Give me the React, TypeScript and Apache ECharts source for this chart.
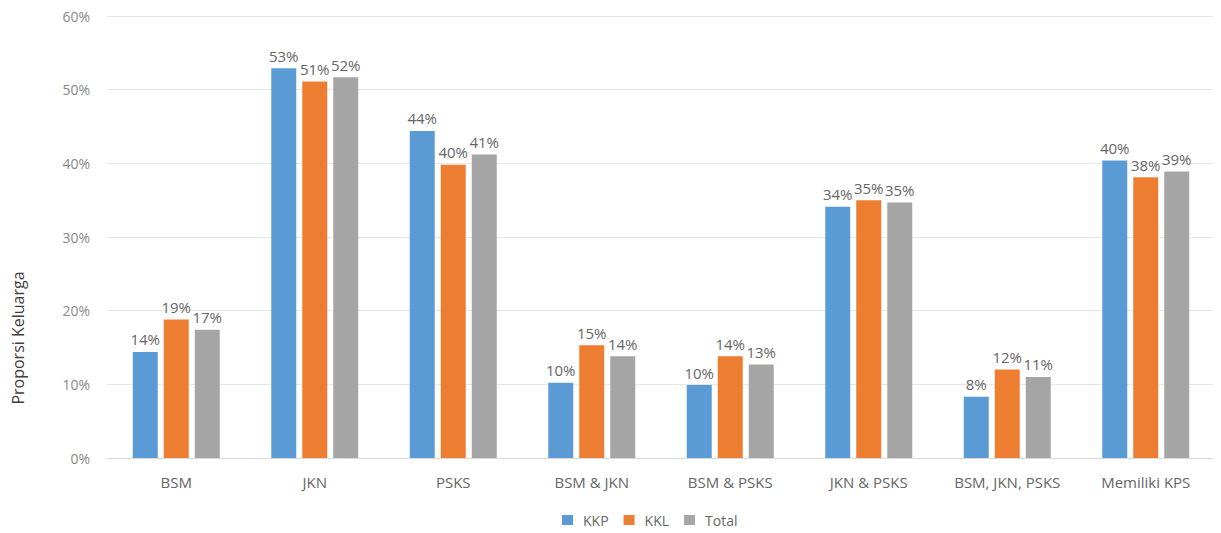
import React, { useEffect, useRef } from "react";
import * as echarts from "echarts";

// Kepemilikan program perlindungan sosial per kelompok keluarga (%)
const categories = [
  "BSM",
  "JKN",
  "PSKS",
  "BSM & JKN",
  "BSM & PSKS",
  "JKN & PSKS",
  "BSM, JKN, PSKS",
  "Memiliki KPS",
];
const kkp = [14.4, 52.9, 44.4, 10.2, 9.9, 34.1, 8.3, 40.4];
const kkl = [18.8, 51.1, 39.8, 15.3, 13.8, 35.0, 12.0, 38.1];
const total = [17.4, 51.7, 41.2, 13.8, 12.7, 34.7, 11.0, 38.9];
const yTicks = [0, 10, 20, 30, 40, 50, 60];

const FONT = "'Open Sans', 'Noto Sans', sans-serif";
const COLORS = ["#5B9BD5", "#ED7D31", "#A5A5A5"];

export default function App() {
  const ref = useRef<HTMLDivElement>(null);

  useEffect(() => {
    if (!ref.current) return;
    const chart = echarts.init(ref.current, null, { renderer: "svg" });

    const makeSeries = (name: string, data: number[], color: string) => ({
      name,
      type: "bar",
      data,
      barWidth: 25,
      barGap: "24%",
      itemStyle: { color },
      label: {
        show: true,
        position: "top",
        distance: 5,
        color: "#666666",
        fontSize: 15,
        fontFamily: FONT,
        formatter: (p: any) => `${Math.round(p.value)}%`,
      },
    });

    chart.setOption({
      animation: false,
      textStyle: { fontFamily: FONT },
      grid: { left: 99, right: 6, top: 8, bottom: 75, containLabel: false },
      legend: {
        data: ["KKP", "KKL", "Total"],
        bottom: 1,
        left: 549,
        itemWidth: 11,
        itemHeight: 10,
        itemGap: 15,
        icon: "rect",
        textStyle: {
          color: "#666666",
          fontSize: 14,
          fontFamily: FONT,
          padding: [0, 0, 0, 5],
        },
      },
      xAxis: {
        type: "category",
        data: categories,
        axisTick: { show: false },
        axisLine: { lineStyle: { color: "#D9D9D9", width: 1 } },
        axisLabel: {
          color: "#666666",
          fontSize: 15,
          fontFamily: FONT,
          margin: 16,
          interval: 0,
        },
      },
      yAxis: {
        type: "value",
        min: yTicks[0],
        max: yTicks[yTicks.length - 1],
        interval: 10,
        axisLine: { show: false },
        axisTick: { show: false },
        splitLine: { lineStyle: { color: "#E6E6E6", width: 1 } },
        axisLabel: {
          color: "#888888",
          fontSize: 14,
          lineHeight: 14,
          fontFamily: FONT,
          margin: 17,
          formatter: (v: number) => `${v}%`,
        },
      },
      graphic: [
        {
          type: "text",
          x: 10,
          y: 330,
          rotation: Math.PI / 2,
          style: {
            text: "Proporsi Keluarga",
            fill: "#404040",
            fontSize: 16,
            fontFamily: FONT,
            align: "center",
            verticalAlign: "middle",
          },
        },
      ],
      series: [
        makeSeries("KKP", kkp, COLORS[0]),
        makeSeries("KKL", kkl, COLORS[1]),
        makeSeries("Total", total, COLORS[2]),
      ],
    });

    return () => chart.dispose();
  }, []);

  return <div ref={ref} style={{ width: 1213, height: 525 }} />;
}
